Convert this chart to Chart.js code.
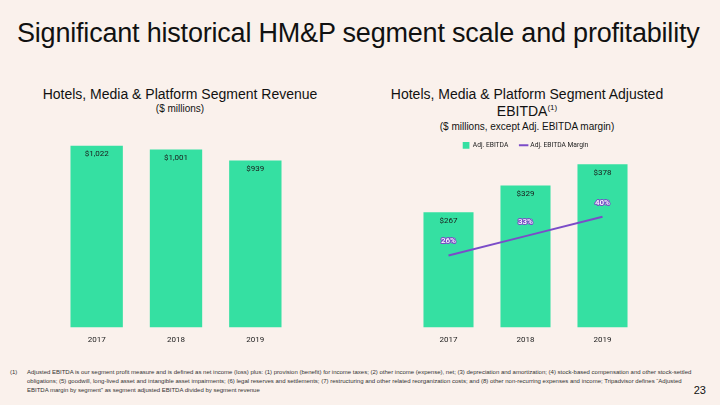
<!DOCTYPE html>
<html><head><meta charset="utf-8">
<script src="https://cdn.jsdelivr.net/npm/chart.js@4"></script>
<style>
html,body{margin:0;padding:0;}
body{width:720px;height:405px;background:#FAF1EC;position:relative;overflow:hidden;font-family:"Liberation Sans",Arial,sans-serif;color:#111;}
.t{position:absolute;white-space:nowrap;}
#title{left:17px;top:18px;font-size:27px;letter-spacing:-0.2px;}
.sub{text-align:center;}
#c1w{position:absolute;left:57px;top:139px;width:238px;height:206px;}
#c2w{position:absolute;left:410px;top:130px;width:231px;height:215px;}
#foot{left:10px;top:368px;font-size:6.0px;line-height:9px;color:#333;}
#foot .n{position:absolute;left:0;top:0;}
#foot .b{position:absolute;left:17px;top:0;}
#pg{right:14px;top:384px;font-size:11px;}
</style></head>
<body>
<div class="t" id="title">Significant historical HM&amp;P segment scale and profitability</div>
<div class="t sub" style="left:30px;width:300px;top:86px;font-size:14px;">Hotels, Media &amp; Platform Segment Revenue</div>
<div class="t sub" style="left:30px;width:300px;top:103px;font-size:10px;">($ millions)</div>
<div class="t sub" style="left:377px;width:300px;top:86px;font-size:14px;">Hotels, Media &amp; Platform Segment Adjusted</div>
<div class="t sub" style="left:377px;width:300px;top:103px;font-size:14px;">EBITDA<sup style="font-size:8px;vertical-align:6px;line-height:0">(1)</sup></div>
<div class="t sub" style="left:377px;width:300px;top:121px;font-size:10px;">($ millions, except Adj. EBITDA margin)</div>
<div id="c1w"><canvas id="c1"></canvas></div>
<div id="c2w"><canvas id="c2"></canvas></div>
<div class="t" id="foot"><span class="n">(1)</span><span class="b">Adjusted EBITDA is our segment profit measure and is defined as net income (loss) plus: (1) provision (benefit) for income taxes; (2) other income (expense), net; (3) depreciation and amortization; (4) stock-based compensation and other stock-settled<br>obligations; (5) goodwill, long-lived asset and intangible asset impairments; (6) legal reserves and settlements; (7) restructuring and other related reorganization costs; and (8) other non-recurring expenses and income; Tripadvisor defines “Adjusted<br>EBITDA margin by segment” as segment adjusted EBITDA divided by segment revenue</span></div>
<div class="t" id="pg">23</div>
<script>
const years = ["2017", "2018", "2019"];
const revenue = [1022, 1001, 939];
const ebitda = [267, 329, 378];
const margin = [26, 33, 40];

const GREEN = "#35E0A2";
const PURPLE = "#7B4CC8";
const FONT = "Roboto, 'Liberation Sans', sans-serif";

const barLabels = {
  id: "barLabels",
  afterDatasetsDraw(chart) {
    const ctx = chart.ctx;
    ctx.save();
    chart.data.datasets.forEach((ds, i) => {
      const meta = chart.getDatasetMeta(i);
      if (ds.type === "line") {
        meta.data.forEach((pt, j) => {
          const txt = ds.data[j] + "%";
          ctx.font = "500 8px " + FONT;
          ctx.textAlign = "center";
          ctx.textBaseline = "middle";
          ctx.lineWidth = 2;
          ctx.strokeStyle = PURPLE;
          ctx.lineJoin = "round";
          ctx.strokeText(txt, pt.x, pt.y - 14);
          ctx.fillStyle = "#ffffff";
          ctx.fillText(txt, pt.x, pt.y - 14);
        });
      } else {
        meta.data.forEach((bar, j) => {
          ctx.font = "8px " + FONT;
          ctx.textAlign = "center";
          ctx.textBaseline = "middle";
          ctx.fillStyle = "#1a1a1a";
          ctx.fillText("$" + ds.data[j].toLocaleString("en-US"), bar.x, bar.y + 8.5);
        });
      }
    });
    ctx.restore();
  }
};

const xAxis = {
  grid: { display: false },
  border: { display: false },
  ticks: { color: "#222", font: { family: FONT, size: 8 }, padding: 0 }
};

new Chart(document.getElementById("c1"), {
  type: "bar",
  data: {
    labels: years,
    datasets: [{ label: "Revenue", data: revenue, backgroundColor: GREEN, categoryPercentage: 0.66, barPercentage: 1 }]
  },
  options: {
    responsive: true, maintainAspectRatio: false, animation: false,
    layout: { padding: 0 },
    plugins: { legend: { display: false }, tooltip: { enabled: false } },
    scales: {
      x: xAxis,
      y: { display: false, min: 0, max: 1060 }
    }
  },
  plugins: [barLabels]
});

new Chart(document.getElementById("c2"), {
  type: "bar",
  data: {
    labels: years,
    datasets: [
      { type: "line", label: "Adj. EBITDA Margin", data: margin, yAxisID: "y1", borderColor: PURPLE, backgroundColor: PURPLE, borderWidth: 2, pointRadius: 0, pointStyle: "line", order: 0 },
      { label: "Adj. EBITDA", data: ebitda, backgroundColor: GREEN, categoryPercentage: 0.65, barPercentage: 1, pointStyle: "rect", order: 1 }
    ]
  },
  options: {
    responsive: true, maintainAspectRatio: false, animation: false,
    layout: { padding: 0 },
    plugins: {
      legend: {
        display: true, reverse: true,
        labels: { usePointStyle: true, boxWidth: 7, boxHeight: 7, color: "#222", font: { family: FONT, size: 6.7 }, padding: 12 }
      },
      tooltip: { enabled: false }
    },
    scales: {
      x: xAxis,
      y: { display: false, min: 0, max: 391 },
      y1: { display: false, min: 0, max: 61, position: "right" }
    }
  },
  plugins: [barLabels]
});
</script>
</body></html>
